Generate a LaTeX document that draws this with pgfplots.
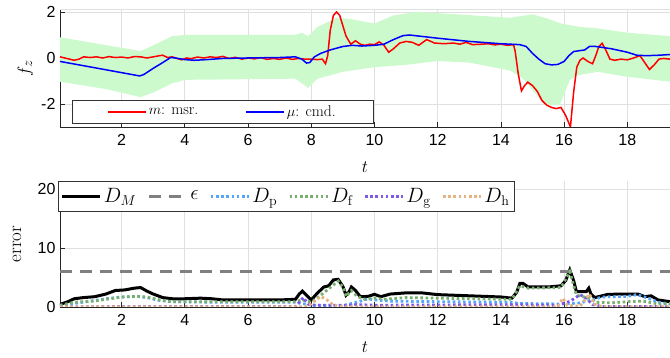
\documentclass[border=0pt]{standalone}
\usepackage{fontspec}
\usepackage{pgfplots}
\pgfplotsset{compat=1.18}
\newfontfamily\tickfont{Liberation Sans}
\definecolor{band}{RGB}{205,250,205}
\definecolor{cp}{RGB}{85,165,250}
\definecolor{cf}{RGB}{120,175,110}
\definecolor{cg}{RGB}{125,90,230}
\definecolor{ch}{RGB}{230,180,130}
\pgfplotsset{
  myax/.style={
    scale only axis, width=610pt, xmin=0.05, xmax=19.35, anchor=south west,
    axis lines=left, axis line style={-, draw=black!85, line width=0.7pt},
    tick align=inside, major tick length=5pt, tick style={black!85, line width=0.7pt},
    xtick={2,4,...,18}, grid=major, grid style={black!12, line width=0.7pt},
    ticklabel style={font=\tickfont\fontsize{16}{16}\selectfont},
    /pgf/number format/assume math mode=true,
    xticklabel style={yshift=-4pt}, yticklabel style={xshift=-1pt},
    label style={font=\fontsize{19}{19}\selectfont},
    xlabel={$t$},
    legend image code/.code={\draw[#1] (0pt,0pt) -- (38pt,0pt);},
  },
  dotsty/.style={line width=2.8pt, dash pattern=on 2.6pt off 2.6pt},
}
\begin{document}
\begin{tikzpicture}
\useasboundingbox (0pt,0pt) rectangle (670pt,358pt);
% ---------------- top axis ----------------
\begin{axis}[myax, at={(60pt,231pt)}, height=118pt,
  ymin=-3, ymax=2.13, ytick={-2,0,2},
  extra y ticks={2.13}, extra y tick labels={}, extra y tick style={grid=major, major tick length=0pt},
  ylabel={$f_z$},
  ylabel style={at={(axis description cs:-0.057,0.5)}, anchor=center, rotate=0},
  xlabel style={at={(axis description cs:0.5,-0.339)}, anchor=center},
  legend style={at={(axis description cs:0.0197,0.025)}, anchor=south west, legend columns=2,
    draw=black!80, line width=0.6pt, fill=white, font=\fontsize{15.6}{16}\selectfont,
    inner xsep=35pt, inner ysep=3.5pt,
    /tikz/every even column/.append style={column sep=45pt}},
]
\addplot[fill=band, draw=none, forget plot] coordinates {
(0.05,0.9) (2.6,0.3) (3.0,0.55) (3.6,0.95) (4.0,1.0) (7.5,1.0) (7.7,1.1) (7.9,0.95) (8.2,1.35)
(8.8,1.75) (9.2,1.7) (10.0,1.5) (10.6,1.85) (11.3,2.0) (12.0,1.95) (14.3,1.75) (15.0,1.9)
(15.5,1.7) (15.9,1.5) (16.5,1.35) (17.0,1.3) (18.0,1.1) (19.35,0.95)
(19.35,-1.03) (17.9,-0.8) (17.07,-0.6) (16.43,-0.75) (16.18,-0.96) (15.86,-2.05) (15.4,-2.05)
(15.07,-1.5) (14.7,-0.9) (14.3,-0.55) (13.0,-0.2) (12.0,-0.13) (11.0,-0.3) (10.0,-0.4)
(9.0,-0.6) (8.2,-0.9) (7.9,-1.3) (7.5,-0.9) (4.0,-0.95) (3.6,-1.1) (3.0,-1.5) (2.6,-1.7)
(1.5,-1.35) (0.05,-1.03)
};
\addplot[red, line width=1.5pt] coordinates {
(0.05,0.05) (0.2,0.0) (0.35,-0.05) (0.5,-0.1) (0.65,-0.05) (0.8,0.05) (1.0,0.02) (1.2,0.05)
(1.4,0.0) (1.6,0.06) (1.8,0.02) (2.0,0.04) (2.2,0.0) (2.4,0.06) (2.6,0.05) (2.8,0.0) (3.0,0.05)
(3.2,0.1) (3.3,0.12) (3.45,0.02) (3.6,0.05) (3.75,-0.02) (3.9,-0.08) (4.05,0.0) (4.2,-0.03)
(4.4,0.04) (4.6,0.0) (4.8,0.05) (5.0,0.02) (5.2,0.07) (5.4,-0.02) (5.6,0.03) (5.8,-0.05)
(6.0,0.0) (6.2,-0.04) (6.4,0.02) (6.6,-0.06) (6.8,-0.02) (7.0,-0.06) (7.2,0.0) (7.4,-0.06)
(7.6,-0.02) (7.8,-0.05) (8.0,-0.05) (8.2,-0.07) (8.35,-0.05) (8.45,-0.25) (8.52,0.1) (8.6,1.2)
(8.7,1.85) (8.8,2.0) (8.9,1.85) (9.0,1.4) (9.1,0.95) (9.25,0.6) (9.4,0.75) (9.55,0.6) (9.7,0.55)
(9.85,0.6) (10.0,0.58) (10.15,0.7) (10.3,0.55) (10.45,0.25) (10.6,0.4) (10.8,0.65) (11.0,0.72)
(11.2,0.68) (11.4,0.55) (11.65,0.8) (11.9,0.65) (12.2,0.62) (12.5,0.65) (12.7,0.6) (12.9,0.68)
(13.1,0.58) (13.4,0.6) (13.6,0.62) (13.8,0.57) (14.0,0.6) (14.2,0.55) (14.4,0.58) (14.45,0.3)
(14.55,-0.7) (14.65,-1.43) (14.75,-1.2) (14.85,-1.05) (15.0,-1.2) (15.15,-1.45) (15.3,-1.85)
(15.45,-2.05) (15.6,-2.15) (15.75,-2.2) (15.9,-2.15) (16.05,-2.5) (16.2,-3.0) (16.3,-1.5)
(16.4,-0.4) (16.5,-0.1) (16.6,0.0) (16.75,-0.15) (16.9,-0.25) (17.0,0.1) (17.1,0.5) (17.2,0.64)
(17.3,0.4) (17.45,-0.05) (17.6,-0.1) (17.8,-0.05) (18.0,-0.08) (18.2,0.0) (18.4,0.1) (18.55,-0.2)
(18.7,-0.5) (18.85,-0.3) (19.0,-0.05) (19.15,-0.02) (19.35,-0.05)
};
\addlegendentry{$m$: msr.}
\addplot[blue, line width=1.5pt] coordinates {
(0.05,-0.15) (2.57,-0.78) (2.7,-0.72) (3.0,-0.45) (3.3,-0.2) (3.55,0.02) (3.7,0.0) (4.0,-0.07)
(4.3,-0.1) (4.7,-0.07) (5.2,-0.02) (6.0,0.0) (7.0,0.02) (7.5,0.05) (7.7,-0.05) (7.85,-0.22)
(7.95,-0.2) (8.1,0.05) (8.3,0.2) (8.6,0.35) (9.0,0.5) (9.3,0.55) (9.6,0.52) (10.0,0.55)
(10.3,0.6) (10.6,0.8) (10.9,0.97) (11.1,1.0) (12.0,0.86) (13.0,0.72) (14.0,0.62) (14.6,0.58)
(14.8,0.5) (15.0,0.2) (15.2,-0.05) (15.4,-0.25) (15.6,-0.3) (15.8,-0.28) (16.0,-0.15) (16.15,0.1)
(16.3,0.28) (16.5,0.32) (16.65,0.35) (16.8,0.5) (17.0,0.5) (17.5,0.4) (18.0,0.25) (18.3,0.12)
(18.6,0.1) (19.0,0.12) (19.35,0.15)
};
\addlegendentry{$\mu$: cmd.}
\end{axis}
% ---------------- bottom axis ----------------
\begin{axis}[myax, at={(60pt,51pt)}, height=126pt,
  ymin=0, ymax=21.4, ytick={0,10,20},
  ylabel={error},
  ylabel style={at={(axis description cs:-0.0705,0.5)}, anchor=center},
  xlabel style={at={(axis description cs:0.5,-0.317)}, anchor=center},
  legend style={at={(axis description cs:-0.0033,1)}, anchor=north west, legend columns=6,
    draw=black!80, line width=0.6pt, fill=white, font=\fontsize{20}{22}\selectfont,
    inner xsep=2.5pt, inner ysep=5pt,
    /tikz/every even column/.append style={column sep=9pt}},
]
\addplot[black, line width=3pt] coordinates {
(0.05,0.45) (0.3,0.9) (0.5,1.4) (0.8,1.6) (1.15,1.75) (1.5,2.2) (1.8,2.8) (2.1,2.9) (2.4,3.2)
(2.6,3.3) (2.8,2.7) (3.0,2.2) (3.3,1.6) (3.6,1.4) (4.0,1.4) (4.5,1.5) (4.85,1.4) (5.2,1.2)
(6.0,1.2) (7.0,1.2) (7.5,1.3) (7.62,2.2) (7.72,2.7) (7.85,2.0) (8.0,1.2) (8.2,2.4) (8.4,3.4)
(8.55,3.6) (8.7,4.6) (8.85,4.7) (9.0,3.5) (9.1,2.0) (9.2,2.6) (9.27,3.4) (9.4,2.8) (9.55,1.75)
(9.8,1.8) (10.0,2.15) (10.2,1.75) (10.5,2.2) (11.0,2.4) (11.5,2.4) (12.0,2.1) (13.0,1.9)
(14.0,1.7) (14.35,1.5) (14.5,2.5) (14.6,4.0) (14.7,4.0) (14.86,3.4) (15.5,3.4) (15.9,3.6)
(16.05,4.5) (16.18,6.3) (16.3,4.5) (16.39,2.6) (16.7,2.6) (16.78,3.2) (16.85,2.2) (16.97,1.6)
(17.2,1.9) (17.39,2.15) (18.0,2.2) (18.34,2.2) (18.55,1.75) (18.75,1.9) (18.97,1.2) (19.35,0.9)
};
\addlegendentry{$D_M$}
\addplot[black!50, line width=3pt, dash pattern=on 12pt off 8pt] coordinates {(0.05,6) (19.35,6)};
\addlegendentry{$\epsilon$}
\addplot[cp, dotsty] coordinates {
(0.05,0.2) (0.5,0.6) (1.0,1.0) (1.5,1.4) (2.0,1.7) (2.5,1.8) (2.8,1.6) (3.2,1.1) (3.6,0.9)
(5.0,0.8) (7.5,0.8) (7.7,0.6) (8.0,0.3) (9.0,0.2) (9.5,0.9) (9.8,1.4) (10.0,1.2) (10.5,1.0)
(12.0,0.9) (14.3,0.8) (14.6,0.6) (16.0,0.5) (16.5,0.7) (16.9,1.2) (17.2,1.7) (18.0,1.8)
(18.3,2.1) (18.6,1.6) (19.0,0.8) (19.35,0.5)
};
\addlegendentry{$D_\mathrm{p}$}
\addplot[cf, dotsty] coordinates {
(0.05,0.3) (0.5,0.8) (1.1,1.0) (1.5,1.3) (2.0,1.7) (2.5,1.8) (2.8,1.7) (3.2,1.2) (3.6,0.9)
(5.0,0.9) (7.5,0.9) (7.7,1.2) (8.0,0.8) (8.3,2.0) (8.6,3.3) (8.85,4.4) (9.0,3.4) (9.1,1.8)
(9.27,2.8) (9.45,1.8) (9.7,1.3) (10.0,1.5) (10.3,1.3) (11.0,1.6) (12.0,1.5) (13.0,1.4)
(14.35,1.3) (14.6,3.6) (14.86,3.2) (15.9,3.3) (16.18,6.0) (16.39,2.0) (16.8,1.5) (17.0,0.8)
(17.5,0.7) (18.0,0.9) (18.5,1.0) (19.0,0.5) (19.35,0.6)
};
\addlegendentry{$D_\mathrm{f}$}
\addplot[cg, dotsty] coordinates {
(0.05,0.05) (7.5,0.1) (7.75,1.6) (7.9,0.5) (8.1,0.3) (9.0,0.3) (9.5,0.4) (10.0,0.3) (14.3,0.4)
(15.8,0.3) (16.2,1.0) (16.5,2.1) (16.7,1.5) (16.9,0.4) (17.2,0.1) (19.35,0.05)
};
\addlegendentry{$D_\mathrm{g}$}
\addplot[ch, dotsty] coordinates {
(0.05,0.02) (7.8,0.05) (8.0,0.5) (8.3,1.8) (8.5,1.2) (8.7,0.3) (9.0,0.05) (15.8,0.05)
(15.96,1.5) (16.1,0.3) (16.5,0.1) (16.7,1.5) (16.8,2.2) (16.95,0.5) (17.2,0.05) (19.35,0.02)
};
\addlegendentry{$D_\mathrm{h}$}
\end{axis}
\end{tikzpicture}
\end{document}
